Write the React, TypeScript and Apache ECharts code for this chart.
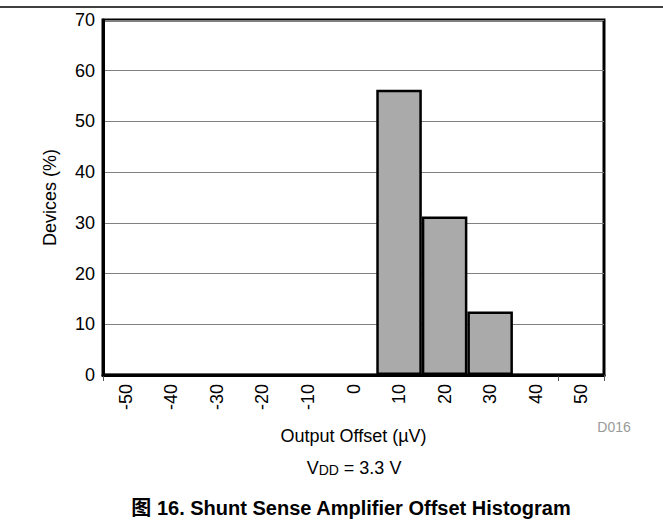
import React, { useEffect, useRef } from "react";
import * as echarts from "echarts";

const categories = ["-50", "-40", "-30", "-20", "-10", "0", "10", "20", "30", "40", "50"];
const devicesPct = [0, 0, 0, 0, 0, 0, 56.25, 31.25, 12.5, 0, 0];
const yTicks = { min: 0, max: 70, interval: 10 };
const xAxisName = "Output Offset (\u00b5V)";
const yAxisName = "Devices (%)";
const figureTitle = "图 16. Shunt Sense Amplifier Offset Histogram";
const codeLabel = "D016";

const FONT = "'Liberation Sans', Arial, 'Noto Sans CJK SC', sans-serif";

export default function App() {
  const ref = useRef<HTMLDivElement>(null);
  useEffect(() => {
    if (!ref.current) return;
    const chart = echarts.init(ref.current, null, { renderer: "svg" });
    chart.setOption({
      animation: false,
      backgroundColor: "#ffffff",
      textStyle: { fontFamily: FONT },
      grid: {
        left: 103,
        right: 59,
        top: 20,
        bottom: 146,
        show: true,
        borderColor: "#000000",
        borderWidth: 3,
        containLabel: false,
      },
      xAxis: {
        type: "category",
        data: categories,
        boundaryGap: true,
        axisLine: { show: true, lineStyle: { color: "#000000", width: 3 } },
        axisTick: {
          show: true,
          length: 6,
          interval: (i: number) => i === 0 || i === categories.length - 1,
          lineStyle: { color: "#555555", width: 1 },
        },
        axisLabel: {
          rotate: 90,
          interval: 0,
          margin: 9,
          fontSize: 18,
          color: "#000000",
          fontFamily: FONT,
        },
        name: xAxisName,
        nameLocation: "middle",
        nameGap: 52,
        nameTextStyle: { fontSize: 18, color: "#000000", fontFamily: FONT },
        splitLine: { show: false },
      },
      yAxis: {
        type: "value",
        min: yTicks.min,
        max: yTicks.max,
        interval: yTicks.interval,
        axisLine: { show: true, lineStyle: { color: "#000000", width: 3 } },
        axisTick: { show: false },
        axisLabel: { margin: 8, fontSize: 18, color: "#000000", fontFamily: FONT },
        splitLine: { show: true, lineStyle: { color: "#808080", width: 1 } },
        name: yAxisName,
        nameLocation: "middle",
        nameGap: 44,
        nameTextStyle: { fontSize: 18, color: "#000000", fontFamily: FONT },
      },
      series: [
        {
          type: "bar",
          data: devicesPct,
          barCategoryGap: "0%",
          itemStyle: { color: "#aaaaaa", borderColor: "#000000", borderWidth: 2.5 },
          z: 3,
        },
      ],
      graphic: [
        {
          type: "line",
          shape: { x1: 0, y1: 7, x2: 663, y2: 7 },
          style: { stroke: "#000000", lineWidth: 1.5 },
        },
        {
          type: "text",
          x: 614,
          y: 427,
          style: {
            text: codeLabel,
            fill: "#999999",
            fontSize: 14,
            fontFamily: FONT,
            align: "center",
            verticalAlign: "middle",
          },
        },
        {
          type: "text",
          x: 354,
          y: 466,
          style: {
            text: "{v|V}{s|DD}{v| = 3.3 V}",
            align: "center",
            verticalAlign: "middle",
            rich: {
              v: { fontSize: 18, fill: "#000000", fontFamily: FONT, verticalAlign: "bottom" },
              s: { fontSize: 14, fill: "#000000", fontFamily: FONT, padding: [8, 0, 0, 0] },
            },
          },
        },
        {
          type: "text",
          x: 351,
          y: 508,
          style: {
            text: figureTitle,
            fill: "#000000",
            fontSize: 20,
            fontWeight: "bold",
            fontFamily: FONT,
            align: "center",
            verticalAlign: "middle",
          },
        },
      ],
    });
    return () => chart.dispose();
  }, []);
  return (
    <div
      ref={ref}
      style={{ position: "fixed", left: 0, top: 0, width: 663, height: 521 }}
    />
  );
}
